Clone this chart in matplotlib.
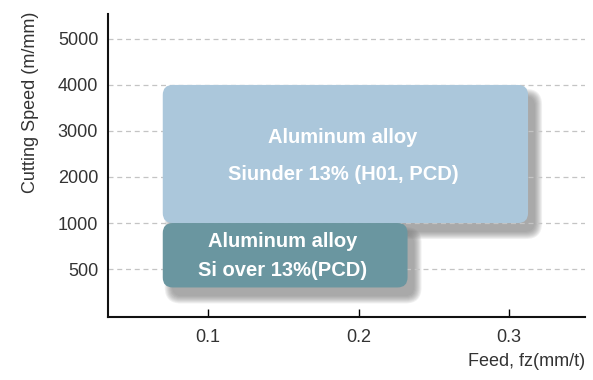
import numpy as np
import matplotlib.pyplot as plt
from matplotlib.patches import FancyBboxPatch

plt.rcParams['font.family'] = ['Liberation Sans', 'DejaVu Sans']

# axis ticks (speed scale is not linear in the source chart)
speed_ticks = [500, 1000, 2000, 3000, 4000, 5000]
feed_ticks = [0.1, 0.2, 0.3]
speed_knots = [0, 500, 1000, 2000, 3000, 4000, 5000]
pos_knots = [-1, 0, 1, 2, 3, 4, 5]

# application ranges: feed from/to, speed from/to
ranges = ["Aluminum alloy\nSiunder 13% (H01, PCD)",
          "Aluminum alloy\nSi over 13%(PCD)"]
feed_lo = [0.07, 0.07]
feed_hi = [0.3125, 0.2325]
speed_lo = [1000, 300]
speed_hi = [4000, 1000]
box_colors = ['#abc7db', '#6a96a0']


def spos(v):
    return np.interp(v, speed_knots, pos_knots)


fig = plt.figure(figsize=(5.93, 3.8), dpi=100)
ax = fig.add_axes([0.182, 0.166, 0.805, 0.797])
ax.set_xlim(0.0336, 0.3505)
ax.set_ylim(-1.04, 5.54)

for s in ['top', 'right']:
    ax.spines[s].set_visible(False)
for s in ['left', 'bottom']:
    ax.spines[s].set_linewidth(1.5)
    ax.spines[s].set_color('#111111')

ax.set_yticks(spos(speed_ticks))
ax.set_yticklabels([str(t) for t in speed_ticks])
ax.set_xticks(feed_ticks)
ax.set_xticklabels([str(t) for t in feed_ticks])
ax.tick_params(axis='y', length=0, pad=7, labelsize=13, labelcolor='#333333')
ax.tick_params(axis='x', direction='in', length=6, width=1, pad=9,
               labelsize=13, labelcolor='#333333')

for t in speed_ticks:
    ax.axhline(spos(t), color='#c4c4c4', lw=0.9, ls=(0, (4, 3)), zorder=1)

# data units per pixel, to get round corners in pixels
px_x = (ax.get_xlim()[1] - ax.get_xlim()[0]) / (0.805 * 593)
px_y = (ax.get_ylim()[1] - ax.get_ylim()[0]) / (0.797 * 380)
aspect = px_y / px_x

for i in range(len(ranges)):
    x0, x1 = feed_lo[i], feed_hi[i]
    y0, y1 = spos(speed_lo[i]), spos(speed_hi[i])
    # soft shadow, offset right and down
    for k in range(8):
        g = k - 1.0
        sh = FancyBboxPatch((x0 + (8 - g) * px_x, y0 - (10 + g) * px_y),
                            (x1 - x0) + 2 * g * px_x, (y1 - y0) + 2 * g * px_y,
                            boxstyle="round,pad=0,rounding_size=%f" % ((10 + max(g, 0)) * px_x),
                            mutation_aspect=aspect, fc='#707070', ec='none',
                            alpha=0.1, zorder=0.5)
        ax.add_patch(sh)
    box = FancyBboxPatch((x0, y0), x1 - x0, y1 - y0,
                         boxstyle="round,pad=0,rounding_size=%f" % (10 * px_x),
                         mutation_aspect=aspect, fc=box_colors[i], ec='none',
                         zorder=2 + i)
    ax.add_patch(box)

ax.text(0.1897, spos(2500) - 0.04, ranges[0], ha='center', va='center',
        color='white', fontsize=14.5, fontweight='bold', linespacing=2.2, zorder=10)
ax.text(0.1498, spos(640), ranges[1], ha='center', va='center',
        color='white', fontsize=14.5, fontweight='bold', linespacing=1.7, zorder=10)

ax.set_ylabel("Cutting Speed (m/mm)", fontsize=13, color='#333333')
ax.yaxis.set_label_coords(-0.145, 0.71)
fig.text(0.986, 0.026, "Feed, fz(mm/t)", ha='right', va='bottom',
         fontsize=13, color='#333333')

fig.savefig("out.png", dpi=100)
